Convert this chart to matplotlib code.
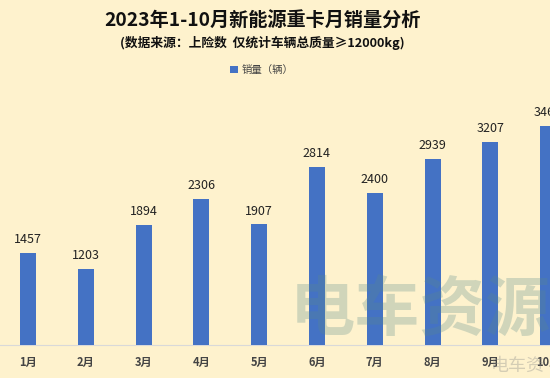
import matplotlib
matplotlib.use("Agg")
import matplotlib.pyplot as plt

plt.rcParams['font.family'] = ['Noto Sans CJK SC', 'DejaVu Sans']

months = ["1月", "2月", "3月", "4月", "5月", "6月", "7月", "8月", "9月", "10月"]
sales = [1457, 1203, 1894, 2306, 1907, 2814, 2400, 2939, 3207, 3465]
title = "2023年1-10月新能源重卡月销量分析"
subtitle = "(数据来源：上险数  仅统计车辆总质量≥12000kg)"
legend_label = "销量（辆）"

bg = "#FEF2CD"
bar_color = "#4472C4"

W, H = 550, 378
fig = plt.figure(figsize=(W / 100, H / 100), dpi=100, facecolor=bg)

# axes in pixel geometry
left_px, right_px = -0.9, 577.0
bottom_px, top_px = 345.0, 80.0
ax = fig.add_axes([left_px / W, 1 - bottom_px / H,
                   (right_px - left_px) / W, (bottom_px - top_px) / H])
ax.set_facecolor(bg)
ax.patch.set_alpha(0)

x = list(range(len(months)))
ax.bar(x, sales, width=16 / 57.8, color=bar_color, zorder=3,
       label=legend_label)
ax.set_xlim(-0.5, len(months) - 0.5)
ax.set_ylim(0, 265 / 0.0632)

for xi, v in zip(x, sales):
    ax.annotate(f"{v}", (xi, v), xytext=(0, 5), textcoords="offset points",
                ha="center", va="bottom", fontsize=9, color="#222222", zorder=4)

ax.set_xticks(x)
ax.set_xticklabels(months, fontsize=8, color="#444444", fontweight="bold")
ax.tick_params(axis="x", length=0, pad=8)
ax.set_yticks([])
for s in ["top", "right", "left"]:
    ax.spines[s].set_visible(False)
ax.spines["bottom"].set_color("#D9D9D9")
ax.spines["bottom"].set_linewidth(0.8)

# watermark
fig.text(420 / W, 1 - 311 / H, "电车资源", fontsize=47, color="#5A8A8A",
         alpha=0.28, ha="center", va="center", fontweight="bold", zorder=5)
fig.text(518 / W, 1 - 366 / H, "电车资", fontsize=13, color="#888888",
         alpha=0.35, ha="center", va="center", zorder=5)

fig.text(262 / W, 1 - 21 / H, title, fontsize=13.8, fontweight="bold",
         ha="center", va="center", color="#111111")
fig.text(262 / W, 1 - 43 / H, subtitle, fontsize=9.2, fontweight="bold",
         ha="center", va="center", color="#111111")

leg = fig.legend(loc="center", bbox_to_anchor=(262 / W, 1 - 70 / H),
                 frameon=False, fontsize=7.5, handlelength=0.7,
                 handleheight=0.7, handletextpad=0.4)
for t in leg.get_texts():
    t.set_color("#444444")

fig.savefig("out.png", dpi=100, facecolor=bg)
